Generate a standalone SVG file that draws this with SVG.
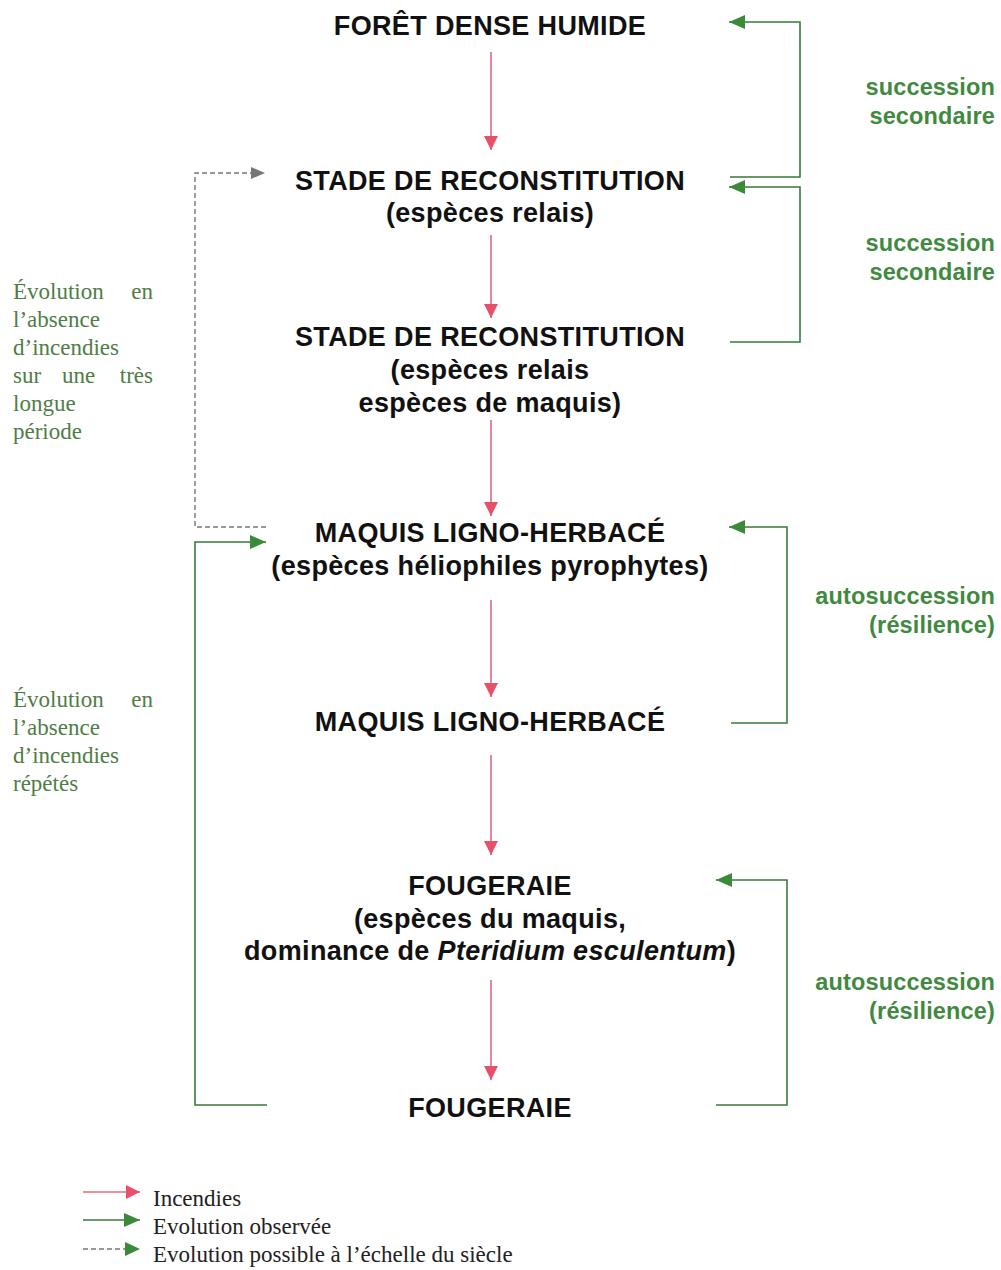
<svg xmlns="http://www.w3.org/2000/svg" width="1001" height="1270" viewBox="0 0 1001 1270">
<style>
.m{font-family:"Liberation Sans",Arial,sans-serif;font-weight:bold;font-size:27px;fill:#111;text-anchor:middle;letter-spacing:0.35px}
.g{font-family:"Liberation Sans",Arial,sans-serif;font-weight:bold;font-size:23.5px;fill:#3f8a3f;text-anchor:end;letter-spacing:0.15px}
.l{font-family:"Liberation Serif","Times New Roman",serif;font-size:23px;fill:#4f7d45}
.lg{font-family:"Liberation Serif","Times New Roman",serif;font-size:23px;fill:#222}
.red{stroke:#e06a80;stroke-width:1.6;fill:none}
.grn{stroke:#3a7a3a;stroke-width:1.6;fill:none}
.dsh{stroke:#777;stroke-width:1.4;fill:none;stroke-dasharray:5,3}
</style>
<defs>
<marker id="ar" viewBox="0 0 14 14" refX="14" refY="7" markerWidth="14" markerHeight="14" orient="auto" markerUnits="userSpaceOnUse"><path d="M0,0 L14,7 L0,14 z" fill="#e8506a"/></marker>
<marker id="ag" viewBox="0 0 16 14" refX="16" refY="7" markerWidth="16" markerHeight="14" orient="auto" markerUnits="userSpaceOnUse"><path d="M0,0 L16,7 L0,14 z" fill="#3a8a3a"/></marker>
<marker id="ay" viewBox="0 0 14 12" refX="14" refY="6" markerWidth="14" markerHeight="12" orient="auto" markerUnits="userSpaceOnUse"><path d="M0,0 L14,6 L0,12 z" fill="#777"/></marker>
</defs>

<g id="connectors">
<line class="red" x1="491" y1="52" x2="491" y2="150" marker-end="url(#ar)"/>
<line class="red" x1="491" y1="235" x2="491" y2="318" marker-end="url(#ar)"/>
<line class="red" x1="491" y1="420" x2="491" y2="516" marker-end="url(#ar)"/>
<line class="red" x1="491" y1="600" x2="491" y2="697" marker-end="url(#ar)"/>
<line class="red" x1="491" y1="755" x2="491" y2="855" marker-end="url(#ar)"/>
<line class="red" x1="491" y1="980" x2="491" y2="1080" marker-end="url(#ar)"/>
<path class="grn" d="M730,177 H800 V22 H729" marker-end="url(#ag)"/>
<path class="grn" d="M730,342 H800 V187 H729" marker-end="url(#ag)"/>
<path class="grn" d="M731,723 H787 V527 H729" marker-end="url(#ag)"/>
<path class="grn" d="M716,1105 H787 V880 H716" marker-end="url(#ag)"/>
<path class="grn" d="M267,1105 H195 V542 H266" marker-end="url(#ag)"/>
<path class="dsh" d="M266,527 H195 V173 H265" marker-end="url(#ay)"/>
</g>

<g id="n1"><text class="m" x="490" y="35">FORÊT DENSE HUMIDE</text></g>
<g id="n2"><text class="m" x="490" y="190">STADE DE RECONSTITUTION</text><text class="m" x="490" y="222">(espèces relais)</text></g>
<g id="n3"><text class="m" x="490" y="346">STADE DE RECONSTITUTION</text><text class="m" x="490" y="379">(espèces relais</text><text class="m" x="490" y="412">espèces de maquis)</text></g>
<g id="n4"><text class="m" x="490" y="542">MAQUIS LIGNO-HERBACÉ</text><text class="m" x="490" y="575">(espèces héliophiles pyrophytes)</text></g>
<g id="n5"><text class="m" x="490" y="731">MAQUIS LIGNO-HERBACÉ</text></g>
<g id="n6"><text class="m" x="490" y="895">FOUGERAIE</text><text class="m" x="490" y="928">(espèces du maquis,</text><text class="m" x="490" y="960">dominance de <tspan font-style="italic">Pteridium esculentum</tspan>)</text></g>
<g id="n7"><text class="m" x="490" y="1117">FOUGERAIE</text></g>

<g id="labels-right">
<text class="g" x="995" y="95">succession</text><text class="g" x="995" y="124">secondaire</text>
<text class="g" x="995" y="251">succession</text><text class="g" x="995" y="280">secondaire</text>
<text class="g" x="995" y="604">autosuccession</text><text class="g" x="995" y="633">(résilience)</text>
<text class="g" x="995" y="990">autosuccession</text><text class="g" x="995" y="1019">(résilience)</text>
</g>

<g id="labels-left">
<text class="l" x="13" y="299">Évolution</text><text class="l" x="153" y="299" text-anchor="end">en</text>
<text class="l" x="13" y="327">l’absence</text>
<text class="l" x="13" y="355">d’incendies</text>
<text class="l" x="13" y="383">sur</text><text class="l" x="62" y="383">une</text><text class="l" x="153" y="383" text-anchor="end">très</text>
<text class="l" x="13" y="411">longue</text>
<text class="l" x="13" y="439">période</text>
<text class="l" x="13" y="707">Évolution</text><text class="l" x="153" y="707" text-anchor="end">en</text>
<text class="l" x="13" y="735">l’absence</text>
<text class="l" x="13" y="763">d’incendies</text>
<text class="l" x="13" y="791">répétés</text>
</g>

<g id="legend">
<line class="red" x1="83" y1="1192" x2="140" y2="1192" marker-end="url(#ar)"/>
<line class="grn" x1="83" y1="1220" x2="140" y2="1220" marker-end="url(#ag)"/>
<line class="dsh" x1="83" y1="1249" x2="126" y2="1249"/>
<path d="M125,1242 L140,1249 L125,1256 z" fill="#3a8a3a"/>
<text class="lg" x="153" y="1206">Incendies</text>
<text class="lg" x="153" y="1234">Evolution observée</text>
<text class="lg" x="153" y="1262">Evolution possible à l’échelle du siècle</text>
</g>
</svg>
